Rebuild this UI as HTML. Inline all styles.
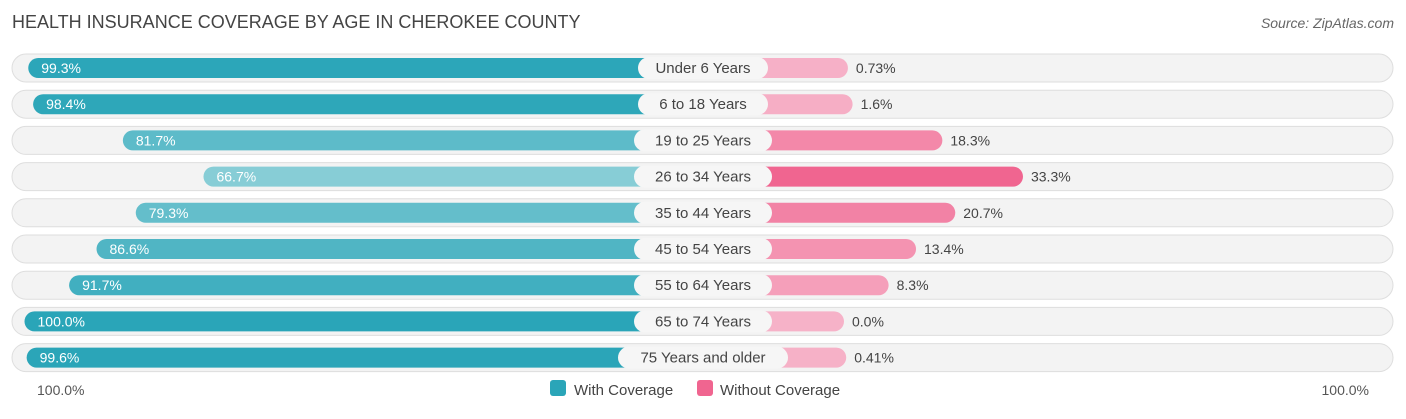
<!DOCTYPE html>
<html><head><meta charset="utf-8"><style>
body{margin:0;width:1406px;height:414px;background:#fff;font-family:"Liberation Sans",sans-serif;overflow:hidden}
svg text{font-family:"Liberation Sans",sans-serif}
</style></head><body>
<svg width="1406" height="414">
<text x="12" y="28" font-size="18" fill="#444">HEALTH INSURANCE COVERAGE BY AGE IN CHEROKEE COUNTY</text>
<text x="1394" y="28" font-size="14" fill="#666" font-style="italic" text-anchor="end">Source: ZipAtlas.com</text>
<g id="rows"></g>
<text x="37" y="395" font-size="14" fill="#555">100.0%</text>
<text x="1369" y="395" font-size="14" fill="#555" text-anchor="end">100.0%</text>
<g>
<rect x="550" y="380" width="16" height="16" rx="3" fill="#2aa5b8"/>
<text x="574" y="395" font-size="15" fill="#444">With Coverage</text>
<rect x="697" y="380" width="16" height="16" rx="3" fill="#f06590"/>
<text x="720" y="395" font-size="15" fill="#444">Without Coverage</text>
</g>
</svg>
<script>
const categories=["Under 6 Years","6 to 18 Years","19 to 25 Years","26 to 34 Years","35 to 44 Years","45 to 54 Years","55 to 64 Years","65 to 74 Years","75 Years and older"];
const withCov=[99.3,98.4,81.7,66.7,79.3,86.6,91.7,100.0,99.6];
const withoutCov=[0.73,1.6,18.3,33.3,20.7,13.4,8.3,0.0,0.41];
const withLabels=["99.3%","98.4%","81.7%","66.7%","79.3%","86.6%","91.7%","100.0%","99.6%"];
const withoutLabels=["0.73%","1.6%","18.3%","33.3%","20.7%","13.4%","8.3%","0.0%","0.41%"];
const NS="http://www.w3.org/2000/svg";
const cx=703, base=141, k=5.375, y0=68, dy=36.2;
function w(v){return base+k*v;}
function mix(a,b,t){return 'rgb('+a.map((x,i)=>Math.round(x+(b[i]-x)*t)).join(',')+')';}
const g=document.getElementById('rows');
function mk(tag,attrs,parent){const e=document.createElementNS(NS,tag);for(const a in attrs)e.setAttribute(a,attrs[a]);parent.appendChild(e);return e;}
categories.forEach((c,i)=>{
  const y=y0+i*dy;
  const row=mk('g',{},g);
  
  
  const bg=mk('rect',{x:12,y:y-14,width:1381,height:28,rx:14,fill:'#f3f3f3',stroke:'#dedede'},row);
  
  
  const lw=w(withCov[i]);
  const t1=Math.max(0,Math.min(1,(100-withCov[i])/35));
  const b1=mk('rect',{x:cx-lw,y:y-10,width:lw,height:20,rx:10,fill:mix([42,165,184],[140,207,216],t1)},row);
  
  
  const rw=w(withoutCov[i]);
  const t2=Math.max(0,Math.min(1,withoutCov[i]/33.3));
  const b2=mk('rect',{x:cx,y:y-10,width:rw,height:20,rx:10,fill:mix([246,178,200],[240,101,144],t2)},row);
  
  
  const v1=mk('text',{x:cx-lw+13,y:y+5,'font-size':14,fill:'#fff'},row);
  v1.textContent=withLabels[i];
  
  
  const v2=mk('text',{x:cx+rw+8,y:y+5,'font-size':14,fill:'#444'},row);
  v2.textContent=withoutLabels[i];
  
  
  const lbl=mk('text',{x:cx,y:y+5,'font-size':15,fill:'#444','text-anchor':'middle'},row);
  lbl.textContent=c;
  const bw=c.length*8+26;
  const pill=mk('rect',{x:cx-bw/2,y:y-11,width:bw,height:22,rx:11,fill:'#f6f6f6'},row);
  row.insertBefore(pill,lbl);
  
  
  
  
});
</script>
</body></html>
